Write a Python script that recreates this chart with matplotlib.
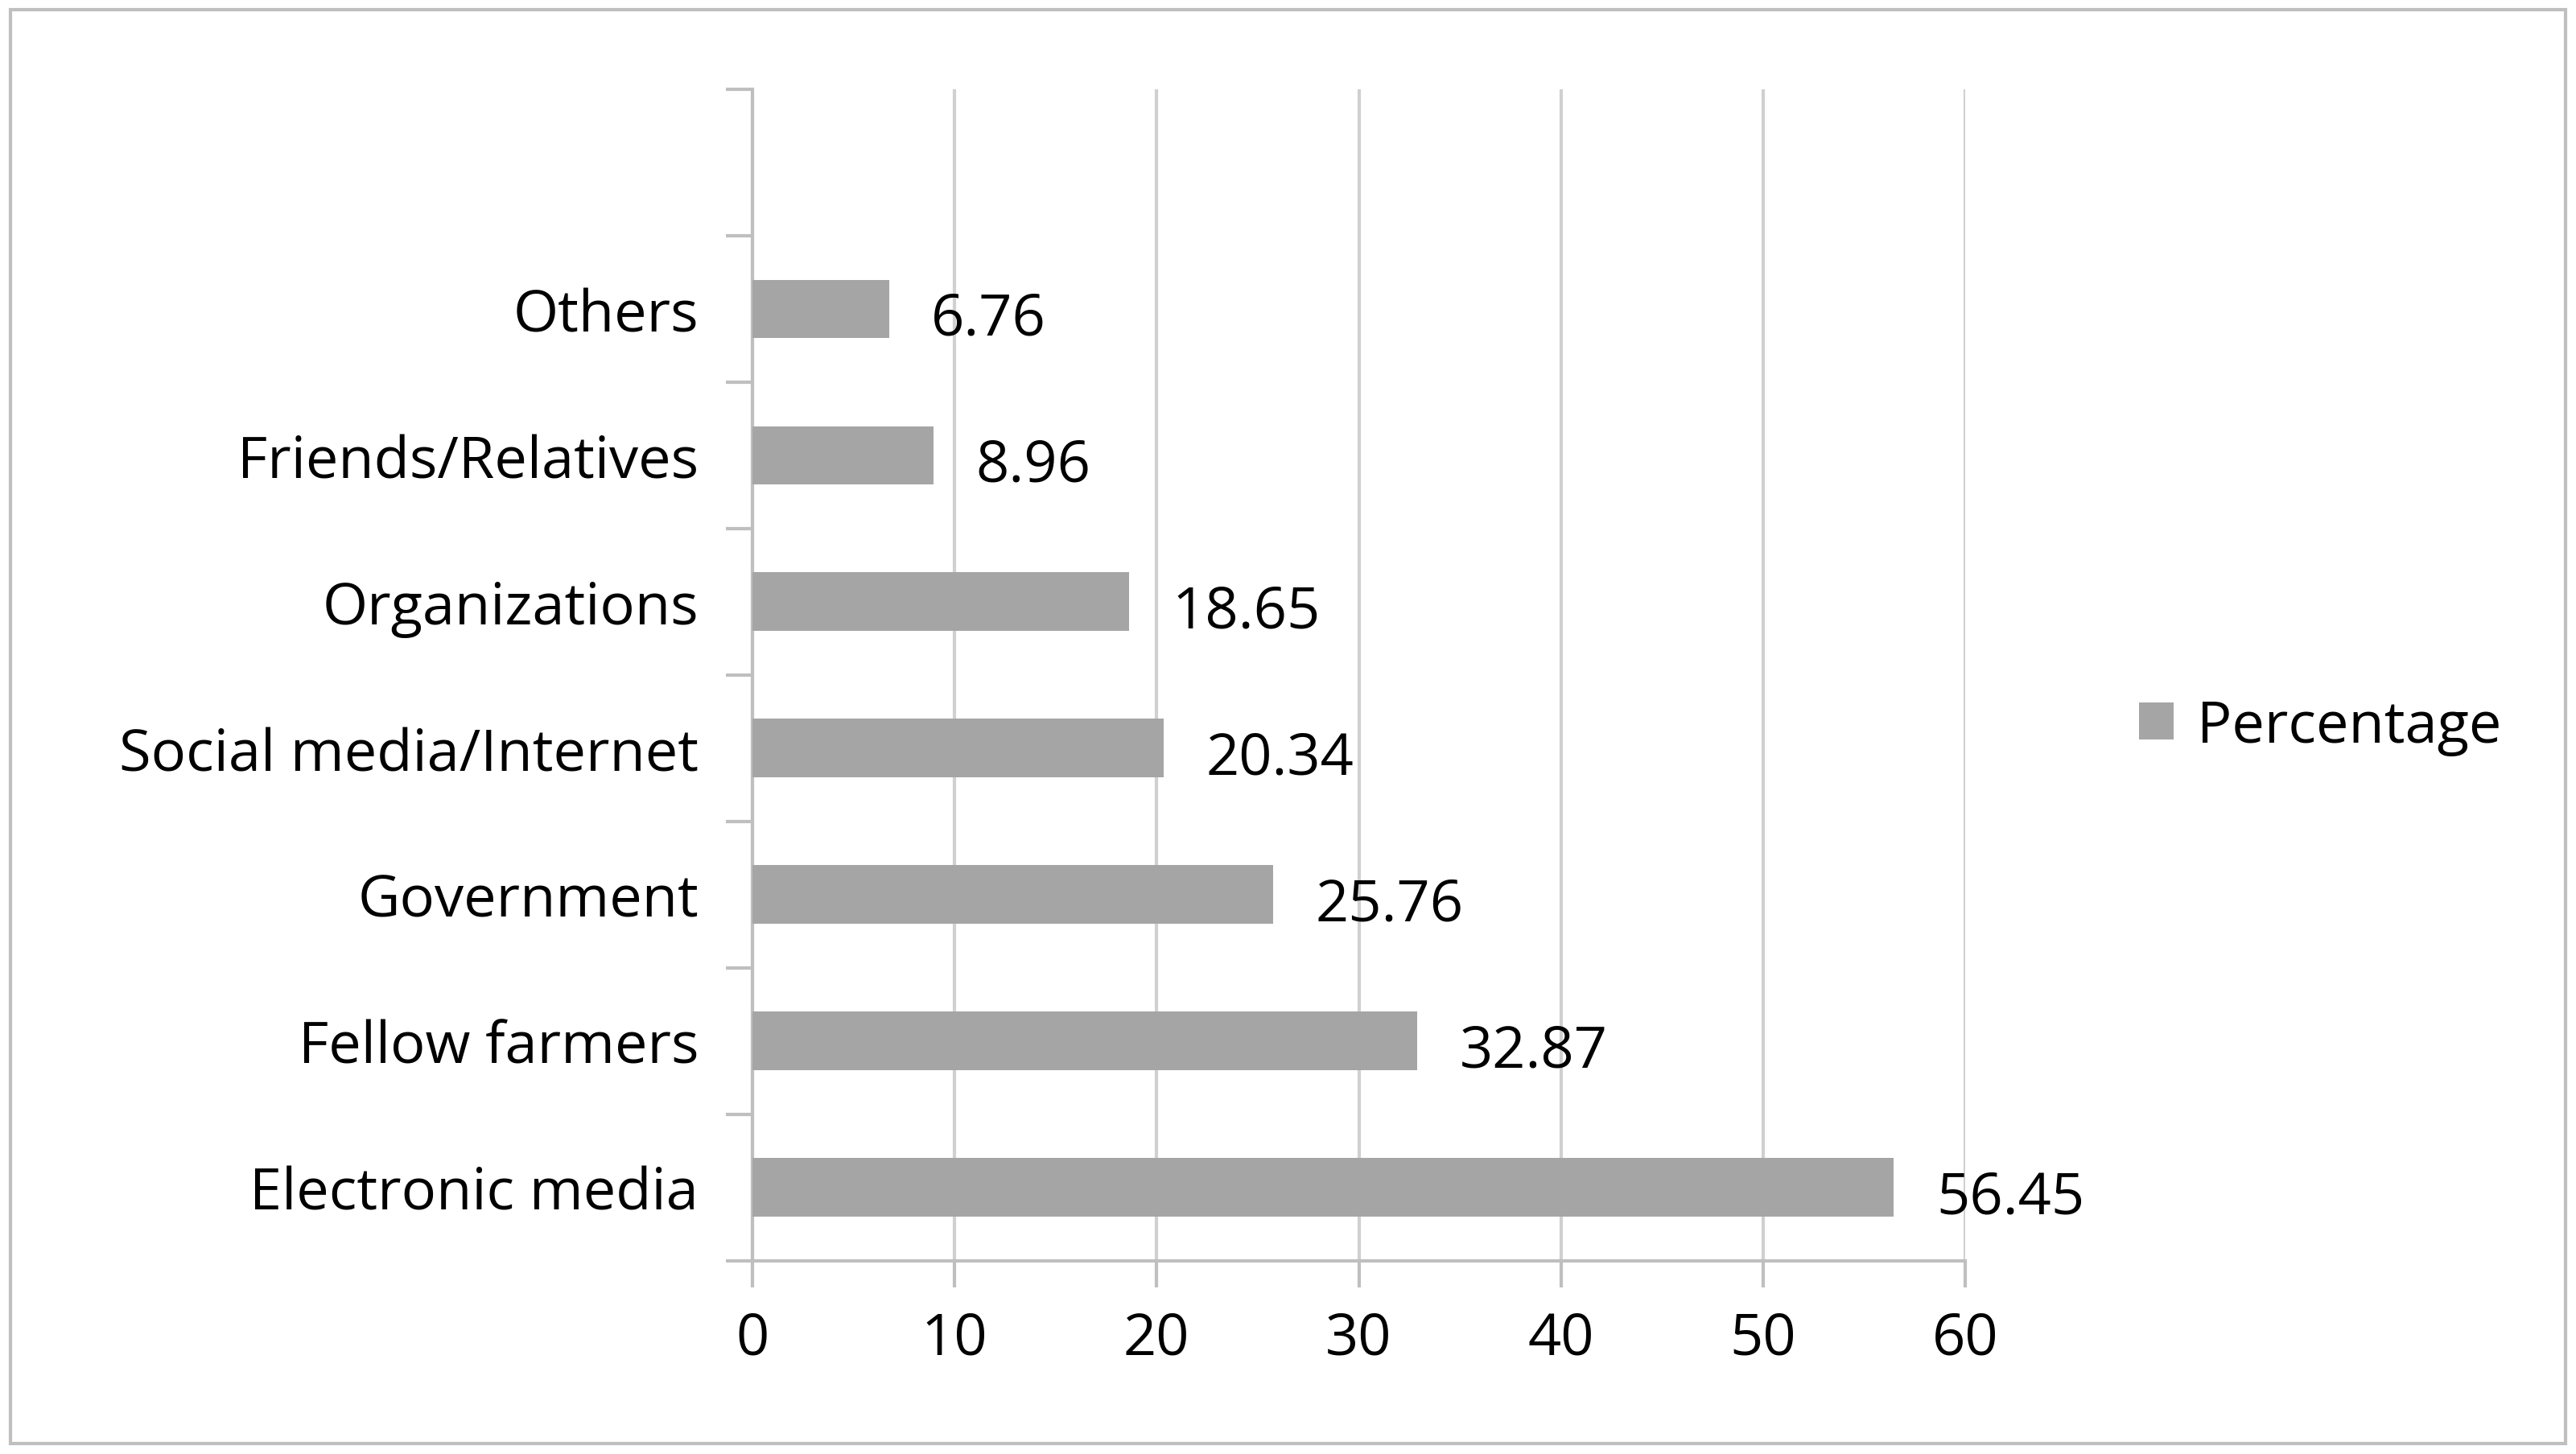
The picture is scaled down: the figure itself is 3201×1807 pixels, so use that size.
import matplotlib.pyplot as plt
from matplotlib.patches import Rectangle

categories = ["Electronic media", "Fellow farmers", "Government", "Social media/Internet",
              "Organizations", "Friends/Relatives", "Others"]
values = [56.45, 32.87, 25.76, 20.34, 18.65, 8.96, 6.76]
xticks = [0, 10, 20, 30, 40, 50, 60]

plt.rcParams['font.family'] = ['Open Sans', 'DejaVu Sans']
fs = 26

fig = plt.figure(figsize=(16.005, 9.04), dpi=200)
ax = fig.add_axes([0.292, 0.133, 0.471, 0.805])

bar_color = "#A5A5A5"
ypos = list(range(len(categories)))
ax.barh(ypos, values, height=0.4, color=bar_color, label="Percentage", zorder=3)
for y, v in zip(ypos, values):
    ax.text(v + 2.1, y - 0.07, f"{v:.2f}", va="center", ha="left", fontsize=fs, color="black")

ax.set_xlim(0, 60)
ax.set_ylim(-0.5, 7.5)
ax.set_xticks(xticks)
ax.set_xticklabels([str(t) for t in xticks], fontsize=fs)
ax.set_yticks(ypos)
ax.set_yticklabels(categories, fontsize=fs)
ax.set_yticks([i - 0.5 for i in range(9)], minor=True)
ax.tick_params(axis="y", which="major", length=0, pad=24)
ax.tick_params(axis="y", which="minor", length=12, color="#BFBFBF", width=1.5)
ax.tick_params(axis="x", length=12, color="#BFBFBF", width=1.5, pad=10)
ax.xaxis.grid(True, color="#D0D0D0", linewidth=1.5, zorder=0)
for s in ["top", "right"]:
    ax.spines[s].set_visible(False)
for s in ["left", "bottom"]:
    ax.spines[s].set_color("#BFBFBF")
    ax.spines[s].set_linewidth(1.5)

fig.legend(loc="center left", bbox_to_anchor=(0.81, 0.5), frameon=False, fontsize=fs,
           handlelength=0.6, handleheight=0.6, handletextpad=0.4)

fig.patches.append(Rectangle((0.004, 0.007), 0.992, 0.986, transform=fig.transFigure,
                             fill=False, edgecolor="#BFBFBF", linewidth=1.5))

fig.savefig("out.png", dpi=200)
